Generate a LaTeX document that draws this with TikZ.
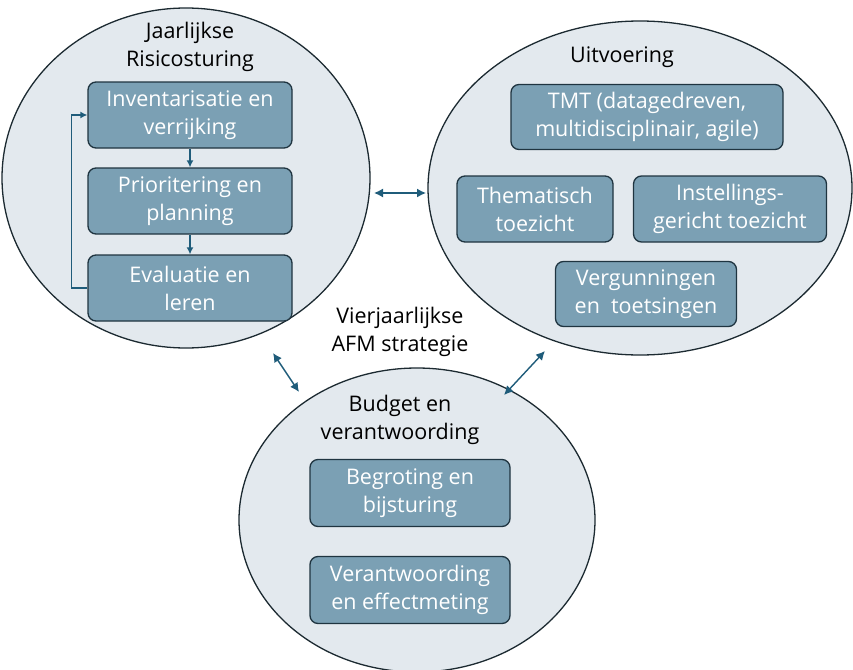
\documentclass[tikz,border=0pt]{standalone}
\usepackage{fontspec}
\setmainfont{Open Sans}
\usetikzlibrary{shapes.geometric,arrows.meta}

\definecolor{circfill}{HTML}{E3E9EE}
\definecolor{circline}{HTML}{1C2A31}
\definecolor{boxfill}{HTML}{7BA0B4}
\definecolor{boxline}{HTML}{1F3440}
\definecolor{arrowcol}{HTML}{1F5C7A}

\begin{document}
\begin{tikzpicture}[x=1pt,y=-1pt,
  circ/.style={ellipse,draw=circline,fill=circfill,line width=1.3pt,inner sep=0pt},
  blok/.style={rectangle,rounded corners=8pt,draw=boxline,fill=boxfill,line width=1.3pt,
    text=white,align=center,inner sep=0pt,font=\fontsize{21.5}{28}\selectfont},
  kop/.style={align=center,inner sep=0pt,font=\fontsize{21.5}{28}\selectfont},
  pijl/.style={arrowcol,line width=1.4pt},
  tip/.style={-{Latex[length=7pt,width=7pt]}},
  dubbel/.style={{Latex[length=9pt,width=9pt]}-{Latex[length=9pt,width=9pt]}}
]
\useasboundingbox (0,0) rectangle (853,669);

% the three circles
\node[circ,minimum width=368,minimum height=340] (risico) at (186,178) {};
\node[circ,minimum width=424,minimum height=334] (uitvoering) at (640,188) {};
\node[circ,minimum width=356,minimum height=304] (budget) at (417,520) {};

% headings
\node[kop] (risicokop) at (190,47) {Jaarlijkse\\Risicosturing};
\node[kop] (uitvoeringkop) at (622,57) {Uitvoering};
\node[kop] (strategie) at (400,332) {Vierjaarlijkse\\AFM strategie};
\node[kop] (budgetkop) at (400,420) {Budget en\\verantwoording};

% yearly cycle
\node[blok,minimum width=204,minimum height=66] (inv) at (190,115) {Inventarisatie en\\verrijking};
\node[blok,minimum width=204,minimum height=66] (prio) at (190,201) {Prioritering en\\planning};
\node[blok,minimum width=204,minimum height=66] (eval) at (190,288) {Evaluatie en\\leren};
\draw[pijl,tip] (inv) -- (prio);
\draw[pijl,tip] (prio) -- (eval);
\draw[pijl,tip] (eval.west) -- ++(-16,0) |- (inv.west);

% execution
\node[blok,minimum width=272,minimum height=65] (tmt) at (647,117) {TMT (datagedreven,\\multidisciplinair, agile)};
\node[blok,minimum width=156,minimum height=66] (them) at (535,209) {Thematisch\\toezicht};
\node[blok,minimum width=193,minimum height=66] (inst) at (730,209) {Instellings-\\gericht toezicht};
\node[blok,minimum width=181,minimum height=65] (verg) at (646,294) {Vergunningen\\en~ toetsingen};

% budget and accountability
\node[blok,minimum width=200,minimum height=67] (begr) at (410,493) {Begroting en\\bijsturing};
\node[blok,minimum width=200,minimum height=67] (verant) at (410,590) {Verantwoording\\en effectmeting};

% links between the circles
\coordinate (lr1) at (374,193);
\coordinate (lr2) at (426,193);
\coordinate (lb1) at (273,353);
\coordinate (lb2) at (299,392);
\coordinate (rb1) at (545,351);
\coordinate (rb2) at (504,395);
\draw[pijl,dubbel] (lr1) -- (lr2);
\draw[pijl,dubbel] (lb1) -- (lb2);
\draw[pijl,dubbel] (rb1) -- (rb2);
\end{tikzpicture}
\end{document}
